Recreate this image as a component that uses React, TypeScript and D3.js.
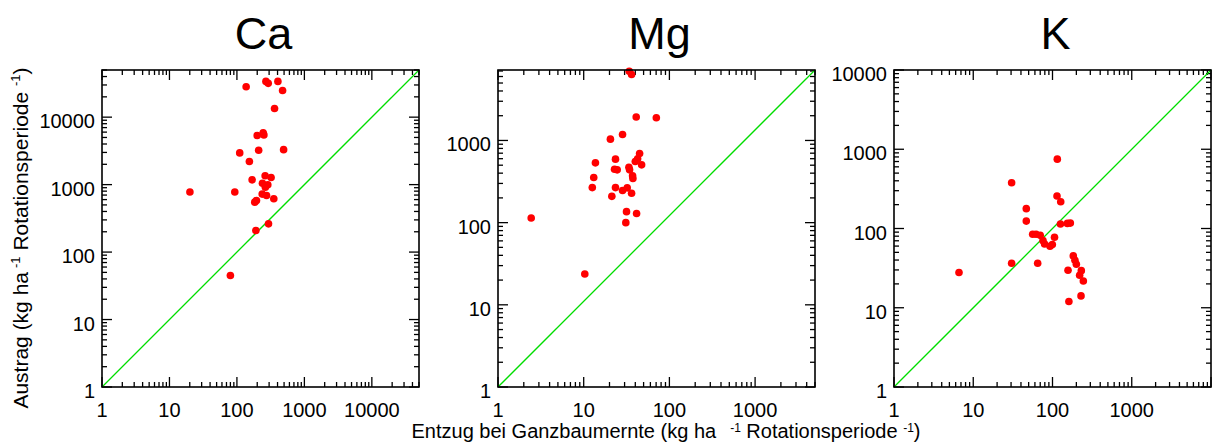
import React from "react";
import * as d3 from "d3";

// ---------- data ----------
const panelNames = ["Ca", "Mg", "K"];

const caX = [137, 269, 291, 405, 475, 361, 200, 245, 251, 110, 210, 492, 153, 168, 262, 321, 239, 287, 264, 20.1, 93, 237, 275, 352, 195, 184, 294, 191, 80];
const caY = [28250, 33900, 31700, 33900, 24900, 13460, 5340, 5850, 5460, 2950, 3230, 3300, 2200, 1176, 1350, 1275, 1050, 993, 916, 776, 776, 723, 690, 617, 581, 550, 262, 209, 45];

const mgX = [34, 36.2, 41, 70.4, 28.4, 20.5, 44.9, 23.5, 42.6, 40, 47.4, 13.7, 22.9, 24.6, 33.7, 34.3, 37.2, 37.5, 13.1, 12.6, 23.5, 32.2, 28.4, 21.3, 36.2, 31.6, 41.4, 31, 2.44, 10.3];
const mgY = [6950, 6350, 1927, 1890, 1183, 1038, 694, 592, 598, 555, 505, 534, 447, 439, 473, 439, 371, 344, 354, 267, 267, 265, 246, 209, 228, 136, 129, 100, 114, 23.7];

const kX = [115, 30.5, 114, 127, 46.7, 46.7, 126, 154, 168, 56.2, 62, 70, 106, 75.9, 79.5, 93, 99.5, 30.5, 65, 6.61, 183, 192, 200, 157, 231, 220, 245, 229, 161];
const kY = [750, 378, 257, 218, 178, 124, 114, 116, 117, 84.5, 84.5, 82, 77.4, 70.3, 63.8, 59.6, 62.6, 36.4, 36.4, 27.8, 45.1, 39.7, 35.4, 29.7, 29.4, 25.7, 21.8, 14.1, 12.0];

const xMaxes = [50000, 5000, 10000];
const yMaxes = [50000, 7200, 10000];

const caXTickLabels = [1, 10, 100, 1000, 10000];
const caYTickLabels = [1, 10, 100, 1000, 10000];
const mgXTickLabels = [1, 10, 100, 1000];
const mgYTickLabels = [1, 10, 100, 1000];
const kXTickLabels = [1, 10, 100, 1000];
const kYTickLabels = [1, 10, 100, 1000, 10000];

const yTitleMain1 = "Austrag (kg ha";
const yTitleMain2 = " Rotationsperiode ";
const xTitleMain1 = "Entzug bei Ganzbaumernte (kg ha";
const xTitleMain2 = " Rotationsperiode ";
const supText = "-1";

// ---------- layout ----------
const W = 1215;
const H = 443;
const panelLefts = [102, 498, 894];
const panelTop = 70;
const panelSize = 317;
const FONT = "'Liberation Sans', Arial, sans-serif";

function logTicks(max: number) {
  const out: { v: number; major: boolean }[] = [];
  for (let e = 0; Math.pow(10, e) <= max; e++) {
    for (let m = 1; m <= 9; m++) {
      const v = m * Math.pow(10, e);
      if (v <= max * 1.0001) out.push({ v, major: m === 1 });
    }
  }
  return out;
}

function Panel({ i }: { i: number }) {
  const xs = [caX, mgX, kX][i];
  const ys = [caY, mgY, kY][i];
  const xLabels = [caXTickLabels, mgXTickLabels, kXTickLabels][i];
  const yLabels = [caYTickLabels, mgYTickLabels, kYTickLabels][i];
  const left = panelLefts[i];
  const x = d3.scaleLog().domain([1, xMaxes[i]]).range([left, left + panelSize]);
  const y = d3.scaleLog().domain([1, yMaxes[i]]).range([panelTop + panelSize, panelTop]);
  const [x0, x1] = x.range();
  const [y0, y1] = y.range();
  const maj = 10;
  const min = 5;
  const tickStroke = 1.3;
  const xt = logTicks(xMaxes[i]);
  const yt = logTicks(yMaxes[i]);
  const linePath = d3.line<[number, number]>()
    .x((d) => x(d[0]))
    .y((d) => y(d[1]))([[1, 1], [xMaxes[i], yMaxes[i]]]);
  return (
    <g>
      <text x={(x0 + x1) / 2 + 3} y={49} fontSize={45} textAnchor="middle" fontFamily={FONT}>
        {panelNames[i]}
      </text>
      {xt.map((t, k) => {
        const px = x(t.v);
        const L = t.major ? maj : min;
        return (
          <g key={"xt" + k} stroke="#000" strokeWidth={tickStroke}>
            <line x1={px} x2={px} y1={y0} y2={y0 - L} />
            <line x1={px} x2={px} y1={y1} y2={y1 + L} />
          </g>
        );
      })}
      {yt.map((t, k) => {
        const py = y(t.v);
        const L = t.major ? maj : min;
        return (
          <g key={"yt" + k} stroke="#000" strokeWidth={tickStroke}>
            <line x1={x0} x2={x0 + L} y1={py} y2={py} />
            <line x1={x1} x2={x1 - L} y1={py} y2={py} />
          </g>
        );
      })}
      {xLabels.map((v, k) => (
        <text key={"xl" + k} x={x(v)} y={417} fontSize={20} textAnchor="middle" fontFamily={FONT}>
          {String(v)}
        </text>
      ))}
      {yLabels.map((v, k) => (
        <text key={"yl" + k} x={x0 - 7} y={y(v) + 11} fontSize={20} textAnchor="end" fontFamily={FONT}>
          {String(v)}
        </text>
      ))}
      <path d={linePath || ""} stroke="#00dd00" strokeWidth={1.3} fill="none" />
      {xs.map((v, k) => (
        <circle key={"p" + k} cx={x(v)} cy={y(ys[k])} r={3.8} fill="#ff0000" />
      ))}
      <rect x={x0} y={y1} width={x1 - x0} height={y0 - y1} fill="none" stroke="#000" strokeWidth={1.6} />
    </g>
  );
}

export default function App() {
  return (
    <div style={{ position: "absolute", left: 0, top: 0 }}>
      <svg width={W} height={H} style={{ display: "block", background: "#fff" }}>
        {[0, 1, 2].map((i) => (
          <Panel key={i} i={i} />
        ))}
        <text
          transform={`translate(28,238) rotate(-90)`}
          fontSize={21}
          textAnchor="middle"
          fontFamily={FONT}
          xmlSpace="preserve"
        >
          {yTitleMain1}
          <tspan dx={4} dy={-8} fontSize={13}>{supText}</tspan>
          <tspan dy={8}>{yTitleMain2}</tspan>
          <tspan dy={-8} fontSize={13}>{supText}</tspan>
          <tspan dy={8}>)</tspan>
        </text>
        <text x={666} y={438} fontSize={20} textAnchor="middle" fontFamily={FONT} xmlSpace="preserve">
          {xTitleMain1}
          <tspan dx={14} dy={-6} fontSize={12}>{supText}</tspan>
          <tspan dy={6}>{xTitleMain2}</tspan>
          <tspan dy={-6} fontSize={12}>{supText}</tspan>
          <tspan dy={6}>)</tspan>
        </text>
      </svg>
    </div>
  );
}
